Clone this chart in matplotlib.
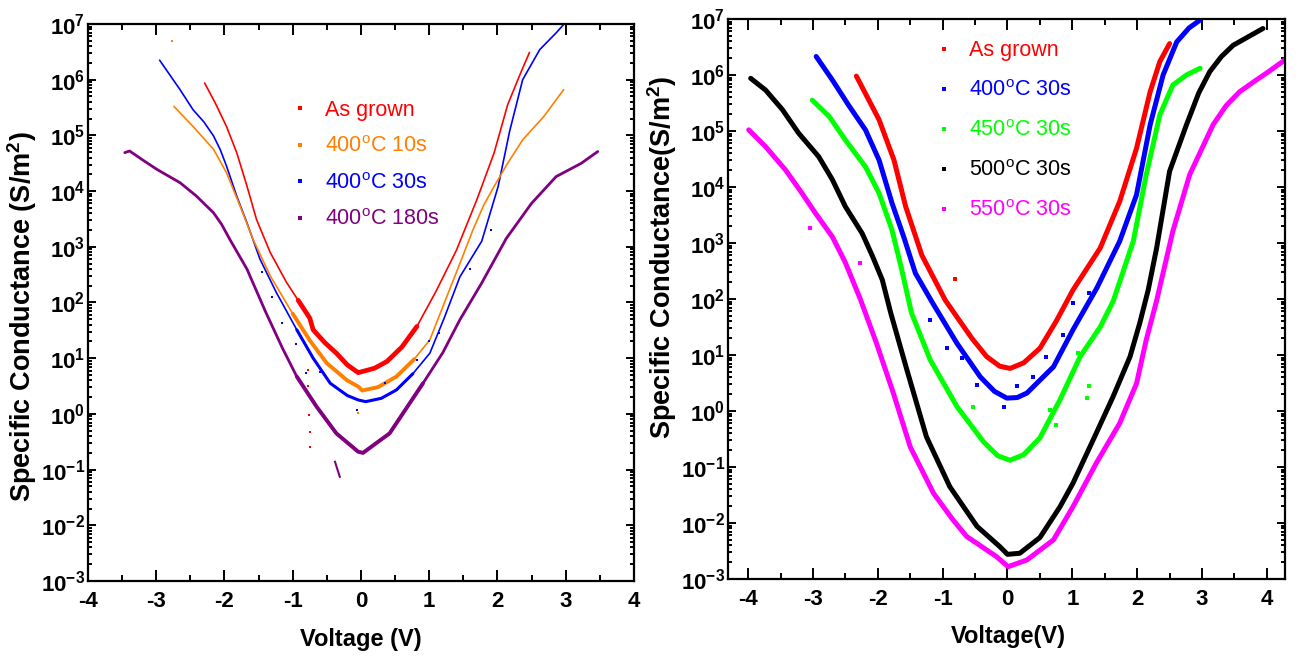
import numpy as np
import matplotlib
matplotlib.use('Agg')
import matplotlib.pyplot as plt
from matplotlib.lines import Line2D
from matplotlib.ticker import LogLocator, MultipleLocator, NullFormatter

plt.rcParams['font.family'] = ['Liberation Sans', 'DejaVu Sans']
plt.rcParams['mathtext.fontset'] = 'custom'
plt.rcParams['mathtext.rm'] = 'Liberation Sans'
plt.rcParams['mathtext.bf'] = 'Liberation Sans:bold'
plt.rcParams['axes.unicode_minus'] = False

# values, stored as log10(G) in S/m^2
# ---- left panel: 400C anneal time series ----
left_labels = ['As grown', r'400$^\mathregular{o}$C 10s', r'400$^\mathregular{o}$C 30s', r'400$^\mathregular{o}$C 180s']
left_colors = ['#ff0000', '#ff8000', '#0000ff', '#800080']

asg_v = [-2.29, -2.13, -1.97, -1.82, -1.67, -1.53, -1.33, -1.09, -0.92, -0.75, -0.70, -0.53, -0.36, -0.20, -0.04,
         0.02, 0.20, 0.38, 0.60, 0.82, 1.10, 1.40, 1.70, 1.95, 2.15, 2.34, 2.47]
asg_log = [5.94, 5.57, 5.16, 4.69, 4.09, 3.49, 2.90, 2.36, 2.04, 1.72, 1.51, 1.28, 1.09, 0.88, 0.74,
           0.76, 0.82, 0.94, 1.20, 1.57, 2.20, 2.94, 3.85, 4.68, 5.55, 6.12, 6.49]

a10_v = [-2.74, -2.46, -2.16, -1.97, -1.77, -1.58, -1.33, -1.00, -0.75, -0.50, -0.20, -0.04,
         0.02, 0.25, 0.52, 0.78, 1.01, 1.25, 1.45, 1.64, 1.80, 1.95, 2.15, 2.37, 2.68, 2.97]
a10_log = [5.52, 5.16, 4.75, 4.33, 3.73, 3.13, 2.48, 1.80, 1.32, 0.91, 0.60, 0.49,
           0.42, 0.48, 0.67, 0.98, 1.33, 2.08, 2.70, 3.30, 3.75, 4.08, 4.50, 4.92, 5.34, 5.82]

a30_v = [-2.95, -2.65, -2.46, -2.30, -2.16, -2.06, -1.97, -1.82, -1.67, -1.48, -1.24, -0.94, -0.70, -0.45, -0.20, -0.04,
         0.07, 0.30, 0.52, 0.76, 1.01, 1.22, 1.45, 1.62, 1.77, 2.01, 2.18, 2.37, 2.62, 2.86, 2.97]
a30_log = [6.35, 5.82, 5.46, 5.24, 4.99, 4.74, 4.45, 3.91, 3.43, 2.78, 2.18, 1.51, 1.00, 0.55, 0.33, 0.25,
           0.22, 0.28, 0.43, 0.72, 1.09, 1.72, 2.46, 2.80, 3.10, 4.08, 5.08, 6.00, 6.54, 6.84, 6.99]

a180_v = [-3.46, -3.39, -3.20, -2.99, -2.65, -2.41, -2.16, -2.04, -1.92, -1.67, -1.40, -1.15, -0.94, -0.65, -0.36, -0.04,
          0.03, 0.42, 0.91, 1.20, 1.45, 1.77, 2.13, 2.50, 2.86, 3.23, 3.47]
a180_log = [4.69, 4.72, 4.56, 4.39, 4.15, 3.91, 3.61, 3.40, 3.13, 2.60, 1.84, 1.18, 0.67, 0.13, -0.35, -0.68,
            -0.70, -0.35, 0.55, 1.10, 1.69, 2.35, 3.15, 3.78, 4.26, 4.50, 4.71]

# scattered points off the main curves (left)
asg_sv = [-0.77, -0.77, -0.76, -0.74, -0.75]
asg_slog = [0.79, 0.50, -0.02, -0.32, -0.59]
a10_sv = [-2.77, -0.04]
a10_slog = [6.69, 0.02]
a30_sv = [-1.45, -1.30, -1.15, -0.95, -0.80, -0.60, -0.06, 0.35, 0.62, 0.82, 1.00, 1.15, 1.60, 1.90]
a30_slog = [2.55, 2.10, 1.63, 1.25, 0.73, 0.76, 0.07, 0.55, 0.55, 0.97, 1.30, 1.45, 2.60, 3.30]
a180_sv = [-0.38, -0.31]
a180_slog = [-0.86, -1.13]

# ---- right panel: 30s anneal temperature series ----
right_labels = ['As grown', r'400$^\mathregular{o}$C 30s', r'450$^\mathregular{o}$C 30s',
                r'500$^\mathregular{o}$C 30s', r'550$^\mathregular{o}$C 30s']
right_colors = ['#ff0000', '#0000ff', '#00ff00', '#000000', '#ff00ff']

r_asg_v = [-2.33, -1.98, -1.75, -1.57, -1.32, -0.96, -0.78, -0.55, -0.32, -0.12, 0.04, 0.25, 0.50, 0.75, 1.01, 1.43,
           1.73, 1.99, 2.20, 2.35, 2.50]
r_asg_log = [5.98, 5.20, 4.48, 3.65, 2.78, 1.98, 1.68, 1.30, 0.97, 0.80, 0.76, 0.86, 1.12, 1.60, 2.16, 2.91,
             3.74, 4.69, 5.70, 6.24, 6.56]

r400_v = [-2.95, -2.70, -2.45, -2.19, -1.98, -1.78, -1.60, -1.42, -1.15, -0.78, -0.42, -0.20, -0.01,
          0.15, 0.30, 0.50, 0.71, 1.01, 1.38, 1.73, 1.99, 2.20, 2.40, 2.61, 2.80, 2.97]
r400_log = [6.33, 5.91, 5.46, 5.02, 4.48, 3.71, 3.11, 2.46, 1.92, 1.21, 0.61, 0.35, 0.23,
            0.24, 0.32, 0.55, 0.79, 1.45, 2.20, 3.03, 3.86, 5.11, 6.00, 6.59, 6.84, 6.98]

r450_v = [-3.01, -2.75, -2.50, -2.19, -1.98, -1.78, -1.63, -1.48, -1.19, -0.78, -0.37, -0.15, 0.04,
          0.25, 0.50, 0.81, 1.12, 1.43, 1.63, 1.94, 2.14, 2.35, 2.55, 2.76, 2.97]
r450_log = [5.55, 5.26, 4.84, 4.36, 3.89, 3.23, 2.52, 1.75, 0.91, 0.08, -0.55, -0.80, -0.88,
            -0.78, -0.48, 0.20, 0.97, 1.50, 1.96, 3.03, 4.22, 5.29, 5.82, 6.00, 6.12]

r500_v = [-3.96, -3.73, -3.47, -3.22, -2.91, -2.70, -2.50, -2.24, -2.08, -1.93, -1.80, -1.55,
          -1.25, -0.89, -0.47, -0.12, 0.00, 0.19, 0.50, 0.81, 1.01, 1.32, 1.63, 1.89, 2.04,
          2.17, 2.30, 2.50, 2.76, 2.95, 3.12, 3.30, 3.48, 3.94]
r500_log = [5.94, 5.73, 5.38, 4.96, 4.54, 4.13, 3.65, 3.17, 2.76, 2.34, 1.75, 0.73,
            -0.46, -1.35, -2.06, -2.42, -2.56, -2.54, -2.26, -1.71, -1.29, -0.52, 0.26, 0.97, 1.57,
            2.16, 2.91, 4.28, 5.11, 5.68, 6.06, 6.33, 6.53, 6.83]

r550_v = [-3.99, -3.73, -3.42, -3.17, -2.96, -2.70, -2.50, -2.27, -2.02, -1.76, -1.50, -1.14,
          -0.85, -0.63, -0.17, 0.01, 0.30, 0.71, 1.01, 1.37, 1.73, 1.99, 2.14, 2.30, 2.55, 2.81, 3.17,
          3.37, 3.58, 3.80, 3.99, 4.28]
r550_log = [5.02, 4.72, 4.30, 3.89, 3.53, 3.11, 2.65, 2.00, 1.21, 0.32, -0.64, -1.47,
            -1.93, -2.24, -2.60, -2.78, -2.66, -2.30, -1.71, -0.93, -0.22, 0.49, 1.27, 1.97, 3.21, 4.22, 5.11,
            5.45, 5.70, 5.88, 6.03, 6.27]

# scattered points off the main curves (right)
r_asg_sv = [-0.81]
r_asg_slog = [2.35]
r400_sv = [-1.19, -0.94, -0.70, -0.47, -0.06, 0.15, 0.40, 0.60, 0.85, 1.01, 1.25]
r400_slog = [1.63, 1.12, 0.95, 0.46, 0.08, 0.45, 0.61, 0.97, 1.35, 1.92, 2.10]
r450_sv = [-0.53, 0.65, 0.75, 1.09, 1.22, 1.25]
r450_slog = [0.08, 0.02, -0.25, 1.04, 0.23, 0.44]
r550_sv = [-3.04, -2.27]
r550_slog = [3.26, 2.64]

fig = plt.figure(figsize=(13.03, 6.59), dpi=100)
ax1 = fig.add_axes([0.0675, 0.1184, 0.419, 0.8452])
ax2 = fig.add_axes([0.5587, 0.1214, 0.4275, 0.8498])

tick_font = dict(family=['Liberation Sans', 'DejaVu Sans'], weight='bold', size=16)
legend_font = dict(family=['Liberation Sans', 'DejaVu Sans'], size=15.5)
xlabel_font = dict(family=['Liberation Sans', 'DejaVu Sans'], weight='bold', size=17)
ylabel_font = dict(family=['Liberation Sans', 'DejaVu Sans'], weight='bold', size=19.5)


def style_axes(ax, xlim):
    ax.set_yscale('log')
    ax.set_xlim(*xlim)
    ax.xaxis.set_minor_locator(MultipleLocator(0.5))
    ax.yaxis.set_minor_locator(LogLocator(base=10, subs=np.arange(2, 10), numticks=200))
    ax.yaxis.set_minor_formatter(NullFormatter())
    for s in ax.spines.values():
        s.set_linewidth(1.6)
    ax.tick_params(which='both', direction='in', top=True, right=True, width=1.4)
    ax.tick_params(axis='x', which='major', length=8, pad=7)
    ax.tick_params(axis='x', which='minor', length=4)
    ax.tick_params(axis='y', which='major', length=6, pad=2)
    ax.tick_params(axis='y', which='minor', length=3)
    ax.set_xticks(np.arange(-4, 5))
    ax.set_xticklabels([str(t) for t in range(-4, 5)], fontdict=tick_font)
    ax.set_yticks([10.0 ** e for e in range(-3, 8)])
    ax.set_yticklabels([r'$\mathdefault{10^{%d}}$' % e for e in range(-3, 8)], fontdict=tick_font)
    ax.set_ylim(1e-3, 1e7)


def curve(ax, v, lg, color, lw, thick=None):
    v = np.array(v)
    g = 10.0 ** np.array(lg)
    ax.plot(v, g, color=color, lw=lw, solid_capstyle='round', solid_joinstyle='round')
    if thick:
        m = np.abs(v) <= 1.0
        ax.plot(v[m], g[m], color=color, lw=thick, solid_capstyle='round', solid_joinstyle='round')


def strays(ax, v, lg, color, ms=2.2):
    ax.plot(v, 10.0 ** np.array(lg), ls='none', marker='s', ms=ms, mew=0, color=color)


# left panel
style_axes(ax1, (-4, 4))
curve(ax1, a180_v, a180_log, left_colors[3], 2.0, 2.8)
curve(ax1, a30_v, a30_log, left_colors[2], 1.2, 2.2)
curve(ax1, a10_v, a10_log, left_colors[1], 1.2, 2.8)
curve(ax1, asg_v, asg_log, left_colors[0], 1.2, 3.4)
strays(ax1, asg_sv, asg_slog, left_colors[0], 1.6)
strays(ax1, a10_sv, a10_slog, left_colors[1], 1.8)
strays(ax1, a30_sv, a30_slog, left_colors[2], 1.6)
ax1.plot(a180_sv, 10.0 ** np.array(a180_slog), color=left_colors[3], lw=1.5)

h1 = [Line2D([], [], ls='none', marker='s', ms=2.5, mew=0, color=c) for c in left_colors]
ax1.legend(h1, left_labels, loc='upper left', bbox_to_anchor=(0.373, 0.864), frameon=False,
           borderpad=0, borderaxespad=0, handlelength=0.8, handletextpad=0.75,
           labelspacing=0.72, prop=legend_font, labelcolor=left_colors)

ax1.set_xlabel('Voltage (V)', fontdict=xlabel_font)
ax1.xaxis.set_label_coords(0.5, -0.084)
ax1.set_ylabel('Specific Conductance (S/m$^\\mathbf{2}$)', fontdict=ylabel_font)
ax1.yaxis.set_label_coords(-0.089, 0.474)

# right panel
style_axes(ax2, (-4.31, 4.28))
curve(ax2, r550_v, r550_log, right_colors[4], 3.6)
curve(ax2, r500_v, r500_log, right_colors[3], 3.6)
curve(ax2, r450_v, r450_log, right_colors[2], 3.6)
curve(ax2, r400_v, r400_log, right_colors[1], 3.6)
curve(ax2, r_asg_v, r_asg_log, right_colors[0], 3.6)
strays(ax2, r_asg_sv, r_asg_slog, right_colors[0], 3.5)
strays(ax2, r400_sv, r400_slog, right_colors[1], 3.5)
strays(ax2, r450_sv, r450_slog, right_colors[2], 3.5)
strays(ax2, r550_sv, r550_slog, right_colors[4], 3.5)

h2 = [Line2D([], [], ls='none', marker='s', ms=3.2, mew=0, color=c) for c in right_colors]
ax2.legend(h2, right_labels, loc='upper left', bbox_to_anchor=(0.3725, 0.962), frameon=False,
           borderpad=0, borderaxespad=0, handlelength=0.8, handletextpad=0.75,
           labelspacing=0.88, prop=legend_font, labelcolor=right_colors)

ax2.set_xlabel('Voltage(V)', fontdict=xlabel_font)
ax2.xaxis.set_label_coords(0.503, -0.082)
ax2.set_ylabel('Specific Conductance(S/m$^\\mathbf{2}$)', fontdict=ylabel_font)
ax2.yaxis.set_label_coords(-0.088, 0.575)

fig.savefig('out.png', dpi=100)
